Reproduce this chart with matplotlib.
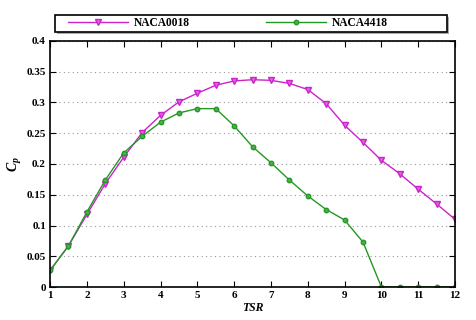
import matplotlib
matplotlib.use("Agg")
import matplotlib.pyplot as plt
from matplotlib.patches import Rectangle

tsr = [1, 1.5, 2, 2.5, 3, 3.5, 4, 4.5, 5, 5.5, 6, 6.5, 7, 7.5, 8, 8.5, 9, 9.5, 10, 10.5, 11, 11.5, 12]
cp_0018 = [0.027, 0.067, 0.118, 0.168, 0.211, 0.251, 0.279, 0.301, 0.315, 0.328, 0.335, 0.337, 0.336,
           0.331, 0.321, 0.298, 0.263, 0.235, 0.206, 0.184, 0.159, 0.135, 0.110]
cp_4418 = [0.027, 0.067, 0.122, 0.174, 0.218, 0.245, 0.268, 0.283, 0.290, 0.290, 0.262, 0.228, 0.202,
           0.174, 0.148, 0.126, 0.109, 0.073, 0.0, 0.0, 0.0, 0.0, 0.0]

plt.rcParams["font.family"] = ["Liberation Serif", "DejaVu Serif"]
plt.rcParams["font.weight"] = "bold"
plt.rcParams["mathtext.fontset"] = "custom"
plt.rcParams["mathtext.bf"] = "Liberation Serif:bold:italic"
plt.rcParams["mathtext.it"] = "Liberation Serif:bold:italic"

fig = plt.figure(figsize=(4.77, 3.2), dpi=100)
ax = fig.add_axes([0.105, 0.103, 0.849, 0.769])

ax.plot(tsr, cp_0018, color="#cc22cc", lw=1.0, marker="v", ms=4, mfc="#dd66dd", mec="#cc22cc", label="NACA0018")
ax.plot(tsr, cp_4418, color="#229922", lw=1.0, marker="o", ms=3.2, mfc="#55aa55", mec="#229922", label="NACA4418")

ax.set_xlim(1, 12)
ax.set_ylim(0, 0.4)
ax.set_xticks(range(1, 13))
ax.set_yticks([0, 0.05, 0.1, 0.15, 0.2, 0.25, 0.3, 0.35, 0.4])
ax.set_yticklabels(["0", "0.05", "0.1", "0.15", "0.2", "0.25", "0.3", "0.35", "0.4"])
ax.yaxis.grid(True, linestyle=(0, (1, 3)), color="#999999", lw=0.8)
ax.tick_params(direction="in", top=True, right=True, labelsize=8, length=4, pad=3)
for lbl in ax.get_xticklabels() + ax.get_yticklabels():
    lbl.set_fontweight("bold")
for s in ax.spines.values():
    s.set_linewidth(1.2)

ax.set_xlabel("TSR", fontsize=8.5, fontstyle="italic", fontweight="bold", labelpad=1)
ax.set_ylabel(r"$\mathbf{C_p}$", fontsize=10, labelpad=2)

# legend frame drawn separately so the two columns sit in equal halves
x0, y0, w, h = 55 / 477, 1 - 32 / 320, 392 / 477, 17 / 320
fig.patches.append(Rectangle((x0 + 0.004, y0 - 0.006), w, h, transform=fig.transFigure,
                             facecolor="#aaaaaa", edgecolor="none", zorder=0))
fig.patches.append(Rectangle((x0, y0), w, h, transform=fig.transFigure,
                             facecolor="white", edgecolor="black", lw=1.2, zorder=1))
leg = fig.legend(loc="center left", bbox_to_anchor=(x0 + 0.016, y0 + h / 2), ncol=2, frameon=False,
                 handlelength=5.2, columnspacing=6.6, handletextpad=0.5, borderpad=0.0,
                 prop={"size": 8.3, "weight": "bold"})

fig.savefig("out.png", dpi=100)
